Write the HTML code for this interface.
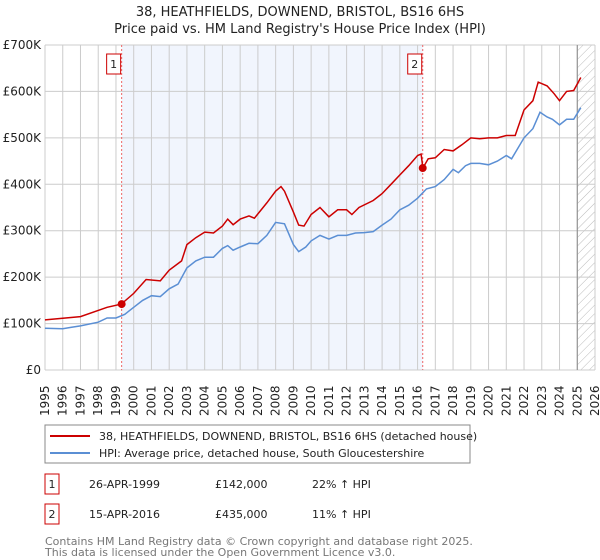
<!DOCTYPE html>
<html><head><meta charset="utf-8"><style>
body{margin:0;background:#fff;font-family:"Liberation Sans","DejaVu Sans",sans-serif;}
svg{display:block}
</style></head><body>
<svg id="c" width="600" height="560" viewBox="0 0 600 560" font-family="DejaVu Sans, Liberation Sans, sans-serif">
<text x="300" y="16" text-anchor="middle" font-size="13" fill="#222">38, HEATHFIELDS, DOWNEND, BRISTOL, BS16 6HS</text>
<text x="300" y="33" text-anchor="middle" font-size="13" fill="#222">Price paid vs. HM Land Registry's House Price Index (HPI)</text>
<defs><pattern id="hatch" width="6" height="6" patternUnits="userSpaceOnUse" patternTransform="rotate(45)"><line x1="0" y1="0" x2="0" y2="6" stroke="#bbb" stroke-width="1"/></pattern></defs>
<g id="plot"></g>
<rect x="45" y="425" width="425" height="38" fill="#fff" stroke="#888"/>
<line x1="50" y1="436" x2="90" y2="436" stroke="#cc0000" stroke-width="2"/>
<text x="99" y="440" font-size="11" fill="#222">38, HEATHFIELDS, DOWNEND, BRISTOL, BS16 6HS (detached house)</text>
<line x1="50" y1="453" x2="90" y2="453" stroke="#5b8fd4" stroke-width="2"/>
<text x="99" y="457" font-size="11" fill="#222">HPI: Average price, detached house, South Gloucestershire</text>
<g font-size="11" fill="#222">
<rect x="45" y="474" width="14" height="20" fill="none" stroke="#cc0000"/>
<text x="52" y="488" text-anchor="middle">1</text>
<text x="89" y="488">26-APR-1999</text>
<text x="215" y="488">£142,000</text>
<text x="312" y="488">22% ↑ HPI</text>
<rect x="45" y="504" width="14" height="20" fill="none" stroke="#cc0000"/>
<text x="52" y="518" text-anchor="middle">2</text>
<text x="89" y="518">15-APR-2016</text>
<text x="215" y="518">£435,000</text>
<text x="312" y="518">11% ↑ HPI</text>
</g>
<text x="45" y="545" font-size="11" fill="#777">Contains HM Land Registry data © Crown copyright and database right 2025.</text>
<text x="45" y="556" font-size="11" fill="#777">This data is licensed under the Open Government Licence v3.0.</text>
</svg>
<script>
const hpiYears=[1995,1996,1996.5,1997,1998,1998.5,1999,1999.5,2000,2000.5,2001,2001.5,2002,2002.5,2003,2003.5,2004,2004.5,2005,2005.3,2005.6,2006,2006.5,2007,2007.5,2008,2008.5,2009,2009.3,2009.7,2010,2010.5,2011,2011.5,2012,2012.5,2013,2013.5,2014,2014.5,2015,2015.5,2016,2016.5,2017,2017.5,2018,2018.3,2018.7,2019,2019.5,2020,2020.5,2021,2021.3,2022,2022.5,2022.9,2023.3,2023.6,2024,2024.4,2024.8,2025.2];
const hpiValues=[90,89,92,95,103,112,112,120,135,150,160,158,175,185,220,235,243,243,262,268,258,265,273,272,290,318,315,270,255,265,278,290,282,290,290,295,296,298,312,325,345,355,370,390,395,410,432,425,440,445,445,442,450,462,455,500,520,555,545,540,528,540,540,565];
const priceYears=[1995,1997,1998.5,1999.3,2000,2000.7,2001.5,2002,2002.7,2003,2003.5,2004,2004.5,2005,2005.3,2005.6,2006,2006.5,2006.8,2007.5,2008,2008.3,2008.5,2009,2009.3,2009.6,2010,2010.5,2011,2011.5,2012,2012.3,2012.7,2013.5,2014,2014.5,2015,2015.5,2016,2016.2,2016.3,2016.6,2017,2017.5,2018,2018.5,2019,2019.5,2020,2020.5,2021,2021.5,2022,2022.5,2022.8,2023.3,2023.7,2024,2024.4,2024.8,2025.2];
const priceValues=[108,115,135,142,165,195,192,215,235,270,285,297,295,310,325,313,325,332,327,360,385,395,385,340,312,310,335,350,330,345,345,335,350,365,380,400,420,440,462,465,435,455,457,475,472,485,500,498,500,500,505,505,560,580,620,612,595,580,600,602,630];
const saleYears=[1999.32,2016.29];
const saleValues=[142,435];
const yTicks=[0,100,200,300,400,500,600,700];
const yTickLabels=["£0","£100K","£200K","£300K","£400K","£500K","£600K","£700K"];
const xTicks=[1995,1996,1997,1998,1999,2000,2001,2002,2003,2004,2005,2006,2007,2008,2009,2010,2011,2012,2013,2014,2015,2016,2017,2018,2019,2020,2021,2022,2023,2024,2025,2026];

const L=45,R=595,T=45,B=370,NS='http://www.w3.org/2000/svg';
const X=y=>L+(y-1995)/(2026-1995)*(R-L);
const Y=v=>B-v/700*(B-T);
const g=document.getElementById('plot');
function mk(t,a){const e=document.createElementNS(NS,t);for(const k in a)e.setAttribute(k,a[k]);g.appendChild(e);return e;}
let e;
e=mk('rect',{x:X(saleYears[0]),y:T,width:X(saleYears[1])-X(saleYears[0]),height:B-T,fill:'#eef3fd',opacity:0.8});


e=mk('rect',{x:X(2025),y:T,width:R-X(2025),height:B-T,fill:'url(#hatch)'});


xTicks.forEach((t,i)=>{
  e=mk('line',{x1:X(t),x2:X(t),y1:T,y2:B,stroke:'#ccc','stroke-width':1});
  
  
  e=mk('text',{x:0,y:0,transform:`translate(${X(t)+4},${B+46}) rotate(-90)`,'font-size':12,fill:'#222'});
  e.textContent=t;
  
  
});
yTicks.forEach((t,i)=>{
  e=mk('line',{x1:L,x2:R,y1:Y(t),y2:Y(t),stroke:'#ccc','stroke-width':1});
  
  
  e=mk('text',{x:L-4,y:Y(t)+4,'text-anchor':'end','font-size':12,fill:'#222'});
  e.textContent=yTickLabels[i];
  
  
});
e=mk('line',{x1:X(2025),x2:X(2025),y1:T,y2:B,stroke:'#888','stroke-width':1});


saleYears.forEach((s,i)=>{
  e=mk('line',{x1:X(s),x2:X(s),y1:T,y2:B,stroke:'#ee6666','stroke-width':1,'stroke-dasharray':'2,2'});
  
  
});
const pts=(xs,vs)=>xs.map((x,i)=>X(x).toFixed(1)+','+Y(vs[i]).toFixed(1)).join(' ');
e=mk('polyline',{points:pts(hpiYears,hpiValues),fill:'none',stroke:'#5b8fd4','stroke-width':1.5});


e=mk('polyline',{points:pts(priceYears,priceValues),fill:'none',stroke:'#cc0000','stroke-width':1.5});


saleYears.forEach((s,i)=>{
  e=mk('circle',{cx:X(s),cy:Y(saleValues[i]),r:4,fill:'#cc0000'});
  
  
  e=mk('rect',{x:X(s)-15,y:54,width:14,height:20,fill:'#fff',stroke:'#cc0000'});
  
  
  e=mk('text',{x:X(s)-8,y:68,'text-anchor':'middle','font-size':11,fill:'#222'});
  e.textContent=String(i+1);
  
  
});
</script>
</body></html>
